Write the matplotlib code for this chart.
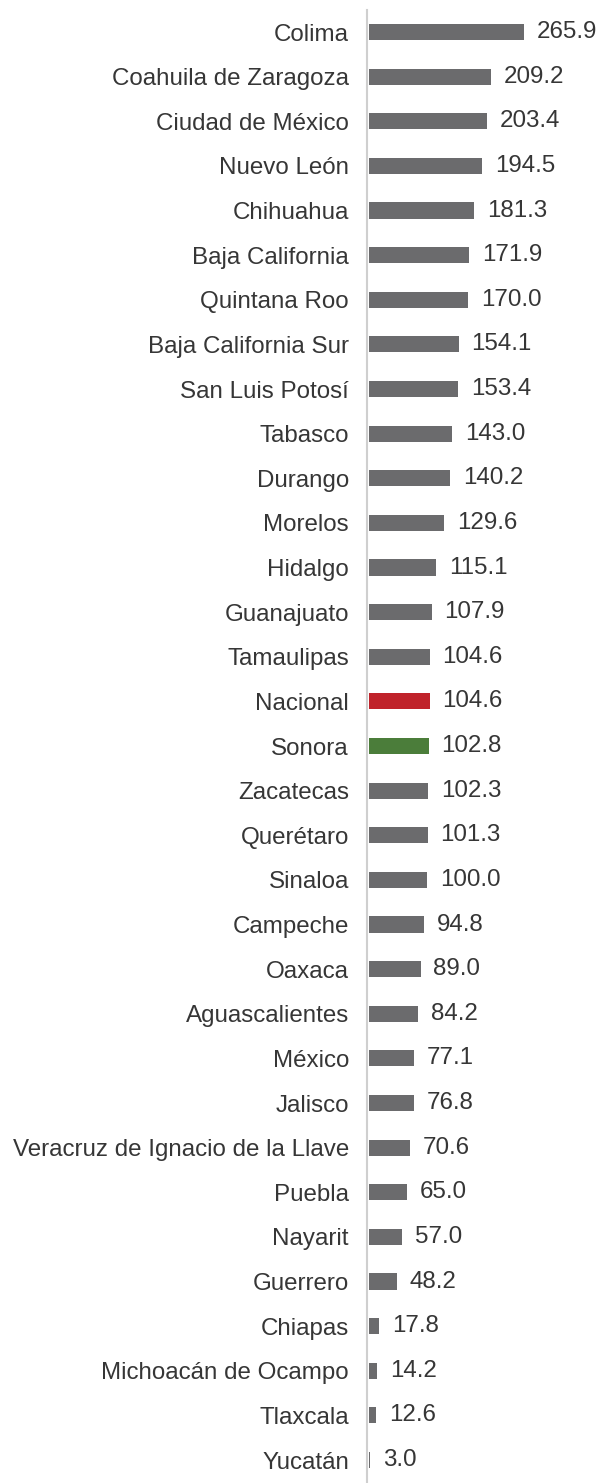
import matplotlib.pyplot as plt

estados = ["Colima", "Coahuila de Zaragoza", "Ciudad de México", "Nuevo León",
           "Chihuahua", "Baja California", "Quintana Roo", "Baja California Sur",
           "San Luis Potosí", "Tabasco", "Durango", "Morelos", "Hidalgo",
           "Guanajuato", "Tamaulipas", "Nacional", "Sonora", "Zacatecas",
           "Querétaro", "Sinaloa", "Campeche", "Oaxaca", "Aguascalientes",
           "México", "Jalisco", "Veracruz de Ignacio de la Llave", "Puebla",
           "Nayarit", "Guerrero", "Chiapas", "Michoacán de Ocampo", "Tlaxcala",
           "Yucatán"]
valores = [265.9, 209.2, 203.4, 194.5, 181.3, 171.9, 170.0, 154.1, 153.4, 143.0,
           140.2, 129.6, 115.1, 107.9, 104.6, 104.6, 102.8, 102.3, 101.3, 100.0,
           94.8, 89.0, 84.2, 77.1, 76.8, 70.6, 65.0, 57.0, 48.2, 17.8, 14.2,
           12.6, 3.0]

plt.rcParams['font.family'] = ['Liberation Sans', 'DejaVu Sans']

gris = "#6b6b6d"
colores = []
for e in estados:
    if e == "Nacional":
        colores.append("#c0222a")
    elif e == "Sonora":
        colores.append("#4b7d3a")
    else:
        colores.append(gris)

fig = plt.figure(figsize=(6.03, 14.83), dpi=100)
ax = fig.add_axes([367 / 603, 0, 1 - 367 / 603, (1483 - 10) / 1483])

y = list(range(len(estados)))
ax.barh(y, valores, height=0.36, color=colores, left=3)

# etiquetas de valor a la derecha de cada barra
for i, v in enumerate(valores):
    ax.text(v + 3 + 22, i, f"{v:.1f}", va="center", ha="left",
            fontsize=17.4, color="#363636")

ax.set_yticks(y)
ax.set_yticklabels(estados, fontsize=17.4, color="#363636")
ax.tick_params(axis="y", length=0, pad=13)
ax.set_xticks([])
ax.set_xlim(0, 405)
ax.set_ylim(32.515, -0.493)

for s in ["top", "right", "bottom"]:
    ax.spines[s].set_visible(False)
ax.spines["left"].set_color("#cfcfcf")
ax.spines["left"].set_linewidth(1.5)

fig.savefig("out.png", dpi=100)
